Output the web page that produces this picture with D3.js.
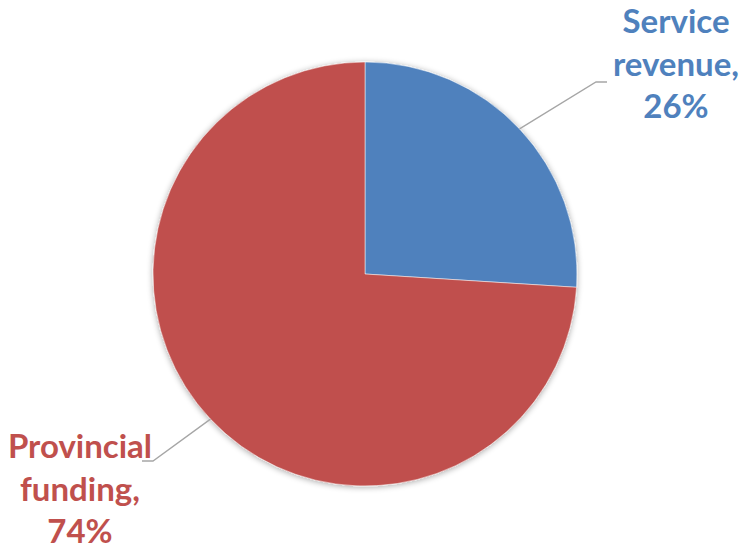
<!DOCTYPE html>
<html>
<head>
<meta charset="utf-8">
<script src="https://cdn.jsdelivr.net/npm/d3@7"></script>
<style>
  body { margin: 0; background: #fff; }
  svg { display: block; }
</style>
</head>
<body>
<svg id="chart"></svg>
<script>
// Data
const categories = ['Service revenue', 'Provincial funding'];
const shares = [26, 74];
const colors = ['#4F81BD', '#C0504D'];

// Label layout: elbow of leader line, end of leader line, text center, first baseline
const labelLayout = [
  {elbow: [596, 82], end: [607, 82], tx: 676, ty: 33, lines: ['Service', 'revenue,', '26%']},
  {elbow: [153, 461], end: [142, 461], tx: 80, ty: 458, lines: ['Provincial', 'funding,', '74%']}
];

const width = 742, height = 550;
const cx = 365, cy = 274, radius = 212;

const svg = d3.select('#chart')
  .attr('width', width)
  .attr('height', height);

// soft shadow like the office chart
const defs = svg.append('defs');
const filter = defs.append('filter')
  .attr('id', 'shadow')
  .attr('x', '-20%').attr('y', '-20%')
  .attr('width', '140%').attr('height', '140%');
filter.append('feGaussianBlur').attr('in', 'SourceAlpha').attr('stdDeviation', 3).attr('result', 'blur');
filter.append('feOffset').attr('dx', 0).attr('dy', 1).attr('result', 'off');
filter.append('feComponentTransfer').append('feFuncA').attr('type', 'linear').attr('slope', 0.35);
const merge = filter.append('feMerge');
merge.append('feMergeNode');
merge.append('feMergeNode').attr('in', 'SourceGraphic');

const data = categories.map((c, i) => ({name: c, value: shares[i], color: colors[i]}));

const pie = d3.pie()
  .sort(null)
  .value(d => d.value);

const arc = d3.arc()
  .innerRadius(0)
  .outerRadius(radius);

const edgeArc = d3.arc()
  .innerRadius(radius)
  .outerRadius(radius);

const arcs = pie(data);

const g = svg.append('g')
  .attr('transform', `translate(${cx},${cy})`);

g.append('g')
  .attr('filter', 'url(#shadow)')
  .selectAll('path')
  .data(arcs)
  .join('path')
  .attr('d', arc)
  .attr('fill', d => d.data.color)
  .attr('stroke', '#fff')
  .attr('stroke-width', 0.5);

// Leader lines
svg.append('g')
  .selectAll('polyline')
  .data(arcs)
  .join('polyline')
  .attr('points', (d, i) => {
    const c = edgeArc.centroid(d);
    const L = labelLayout[i];
    return [[cx + c[0], cy + c[1]], L.elbow, L.end].map(p => p.join(',')).join(' ');
  })
  .attr('fill', 'none')
  .attr('stroke', '#A6A6A6')
  .attr('stroke-width', 1.3);

// Labels
const labels = svg.append('g')
  .selectAll('text')
  .data(arcs)
  .join('text')
  .attr('text-anchor', 'middle')
  .attr('font-family', 'Lato, "Open Sans", sans-serif')
  .attr('font-weight', 'bold')
  .attr('font-size', 33)
  .attr('fill', d => d.data.color)
  .attr('x', (d, i) => labelLayout[i].tx)
  .attr('y', (d, i) => labelLayout[i].ty);

labels.selectAll('tspan')
  .data((d, i) => labelLayout[i].lines.map(t => ({t, x: labelLayout[i].tx})))
  .join('tspan')
  .attr('x', d => d.x)
  .attr('dy', (d, j) => j === 0 ? 0 : 42.5)
  .text(d => d.t);
</script>
</body>
</html>
